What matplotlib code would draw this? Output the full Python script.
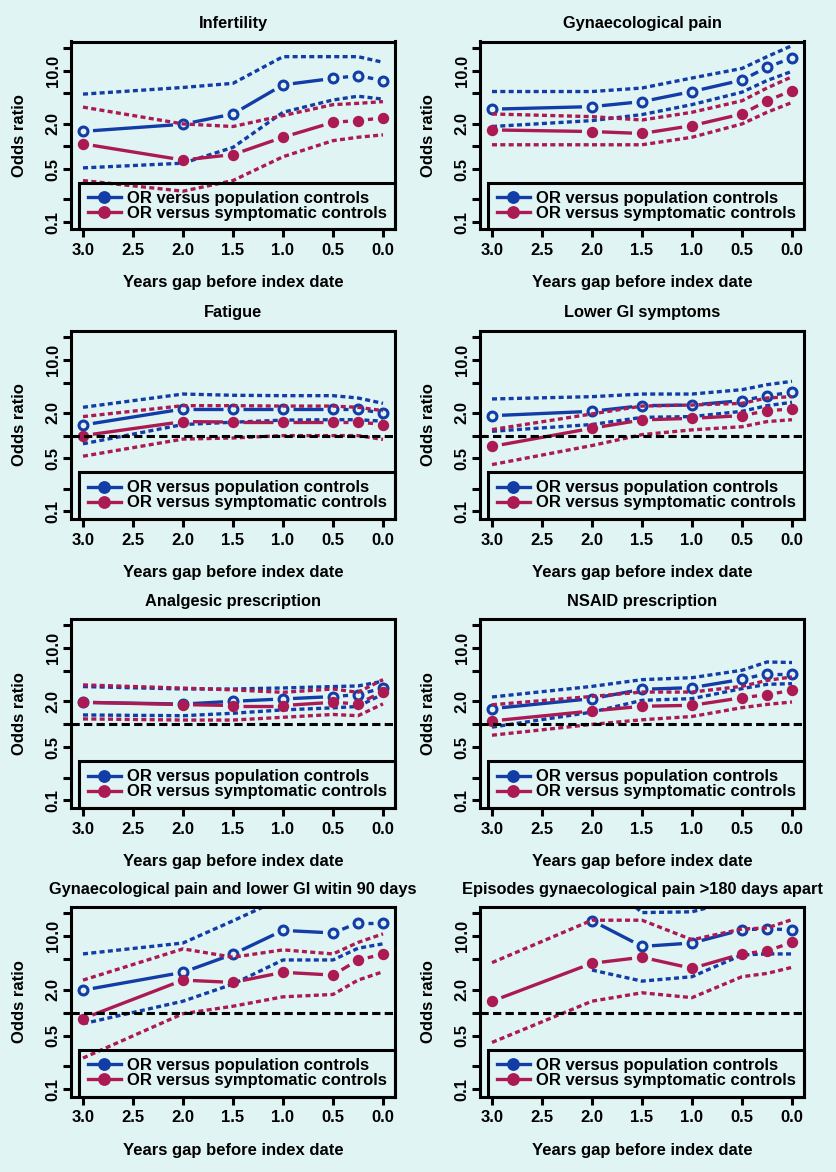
#!/usr/bin/env python
# -*- coding: utf-8 -*-
"""Odds ratios by years gap before index date, eight symptom panels"""

import numpy as np
import matplotlib
matplotlib.use("Agg")
import matplotlib.pyplot as plt
from matplotlib.lines import Line2D

NAN = np.nan

# years before index date (shared by every panel)
years = [3.0, 2.0, 1.5, 1.0, 0.5, 0.25, 0.0]

titles = ["Infertility", "Gynaecological pain",
          "Fatigue", "Lower GI symptoms",
          "Analgesic prescription", "NSAID prescription",
          "Gynaecological pain and lower GI witin 90 days",
          "Episodes gynaecological pain >180 days apart"]

# infertility
infertility_pop = [1.58, 1.96, 2.68, 6.5, 7.9, 8.6, 7.4]
infertility_pop_lo = [0.52, 0.60, 0.97, 2.82, 4.1, 4.6, 4.2]
infertility_pop_hi = [4.9, 6.0, 6.8, 15.3, 15.3, 15.3, 12.9]
infertility_sym = [1.08, 0.66, 0.78, 1.32, 2.08, 2.19, 2.38]
infertility_sym_lo = [0.354, 0.256, 0.354, 0.73, 1.19, 1.32, 1.42]
infertility_sym_hi = [3.3, 1.98, 1.83, 2.55, 3.56, 3.7, 3.9]

# gynaecological pain
gynpain_pop = [3.1, 3.35, 3.9, 5.3, 7.5, 11.1, 14.7]
gynpain_pop_lo = [1.83, 2.19, 2.63, 3.56, 5.2, 7.4, 9.8]
gynpain_pop_hi = [5.3, 5.3, 5.9, 8.0, 10.7, 15.3, 21.4]
gynpain_sym = [1.65, 1.57, 1.48, 1.88, 2.68, 4.0, 5.45]
gynpain_sym_lo = [1.05, 1.05, 1.05, 1.32, 1.98, 2.82, 3.8]
gynpain_sym_hi = [2.68, 2.47, 2.23, 2.82, 4.0, 5.9, 8.3]

# fatigue
fatigue_pop = [1.38, 2.24, 2.24, 2.24, 2.24, 2.24, 1.97]
fatigue_pop_lo = [0.78, 1.40, 1.5, 1.6, 1.62, 1.62, 1.55]
fatigue_pop_hi = [2.36, 3.53, 3.4, 3.36, 3.36, 3.13, 2.66]
fatigue_sym = [1.0, 1.53, 1.51, 1.51, 1.51, 1.51, 1.40]
fatigue_sym_lo = [0.535, 0.90, 0.93, 1.0, 1.0, 1.0, 0.89]
fatigue_sym_hi = [1.78, 2.48, 2.48, 2.45, 2.45, 2.36, 2.13]

# lower GI symptoms
lowergi_pop = [1.83, 2.09, 2.48, 2.53, 2.89, 3.36, 3.72]
lowergi_pop_lo = [1.14, 1.40, 1.74, 1.78, 2.09, 2.48, 2.75]
lowergi_pop_hi = [3.04, 3.26, 3.53, 3.53, 4.03, 4.69, 5.19]
lowergi_sym = [0.72, 1.25, 1.61, 1.69, 1.83, 2.13, 2.24]
lowergi_sym_lo = [0.415, 0.74, 1.03, 1.19, 1.31, 1.53, 1.62]
lowergi_sym_hi = [1.2, 1.93, 2.45, 2.53, 2.66, 3.13, 3.26]

# analgesic prescription
analgesic_pop = [1.95, 1.85, 2.01, 2.16, 2.32, 2.46, 3.01]
analgesic_pop_lo = [1.33, 1.30, 1.40, 1.55, 1.65, 1.72, 2.51]
analgesic_pop_hi = [3.14, 2.92, 2.92, 3.01, 3.14, 3.2, 3.69]
analgesic_sym = [1.95, 1.82, 1.77, 1.77, 1.95, 1.86, 2.70]
analgesic_sym_lo = [1.18, 1.14, 1.14, 1.24, 1.35, 1.30, 1.86]
analgesic_sym_hi = [3.3, 3.0, 2.84, 2.64, 2.92, 2.64, 3.88]

# NSAID prescription
nsaid_pop = [1.61, 2.18, 2.89, 3.04, 3.91, 4.64, 4.64]
nsaid_pop_lo = [0.92, 1.45, 2.07, 2.18, 2.95, 3.36, 3.43]
nsaid_pop_hi = [2.29, 3.16, 3.87, 4.11, 5.14, 6.61, 6.5]
nsaid_sym = [1.11, 1.5, 1.73, 1.78, 2.24, 2.46, 2.8]
nsaid_sym_lo = [0.72, 1.0, 1.15, 1.27, 1.66, 1.83, 1.97]
nsaid_sym_hi = [1.81, 2.33, 2.66, 2.66, 3.16, 3.79, 4.2]

# gynaecological pain and lower GI within 90 days
combo_pop = [1.98, 3.39, 5.85, 12.0, 11.1, 15.0, 15.0]
combo_pop_lo = [0.72, 1.42, 2.38, 4.92, 4.92, 7.0, 8.0]
combo_pop_hi = [5.9, 8.2, 16.0, 32.0, 45.0, 60.0, 60.0]
combo_sym = [0.84, 2.68, 2.5, 3.39, 3.12, 4.92, 5.85]
combo_sym_lo = [0.256, 0.975, 1.22, 1.62, 1.74, 2.68, 3.45]
combo_sym_hi = [2.68, 6.87, 5.34, 6.67, 5.9, 8.34, 10.8]

# episodes of gynaecological pain >180 days apart
episodes_pop = [NAN, 16.1, 7.4, 8.2, 12.2, 12.6, 12.2]
episodes_pop_lo = [NAN, 3.63, 2.6, 2.97, 5.73, 5.9, 5.9]
episodes_pop_hi = [NAN, 76.0, 20.5, 21.0, 31.0, 33.0, 33.0]
episodes_sym = [1.42, 4.45, 5.34, 3.82, 5.9, 6.47, 8.34]
episodes_sym_lo = [0.41, 1.42, 1.83, 1.58, 2.97, 3.28, 3.94]
episodes_sym_hi = [4.54, 16.3, 16.3, 9.04, 12.5, 12.9, 16.6]

# which panels carry the dashed OR = 1 reference line
ref_line = [False, False, True, True, True, True, True, True]

x_ticks = [3.0, 2.5, 2.0, 1.5, 1.0, 0.5, 0.0]
y_ticks = [0.1, 0.2, 0.5, 1.0, 2.0, 5.0, 10.0, 20.0]
y_tick_labels = ["0.1", "", "0.5", "", "2.0", "", "10.0", ""]
legend_labels = ["OR versus population controls", "OR versus symptomatic controls"]

BG = "#e0f5f3"
BLUE = "#123ca6"
CRIMSON = "#ab1a52"
LW = 2.4
FS = 12


def gapped_line(axes, x_vals, y_vals, color, gap_px=10):
    """
    Draws a line that stops short of each point, like R's type='b'
    :param axes: target axes (limits must be set already)
    :param x_vals: x data
    :param y_vals: y data
    :param color: line colour
    :param gap_px: gap around each point in pixels
    """
    pts = axes.transData.transform(np.column_stack([x_vals, y_vals]))
    inv = axes.transData.inverted()
    for p_0, p_1 in zip(pts[:-1], pts[1:]):
        if np.any(np.isnan(p_0)) or np.any(np.isnan(p_1)):
            continue
        delta = p_1 - p_0
        length = np.hypot(delta[0], delta[1])
        if length <= 2 * gap_px:
            continue
        unit = delta / length
        seg = inv.transform(np.array([p_0 + unit * gap_px, p_1 - unit * gap_px]))
        axes.plot(seg[:, 0], seg[:, 1], color=color, lw=LW, solid_capstyle="butt")


def draw_panel(axes, title, series, with_ref):
    """
    Draws one odds-ratio panel
    :param axes: target axes
    :param title: panel title
    :param series: list of (or, lo, hi, colour, open marker) tuples
    :param with_ref: draw dashed line at OR = 1
    """
    axes.set_facecolor(BG)
    axes.set_yscale("log")
    axes.set_xlim(3.12, -0.12)
    axes.set_ylim(10 ** -1.095, 10 ** 1.385)
    axes.minorticks_off()

    for odds, low, high, col, hollow in series:
        gapped_line(axes, years, odds, col)
        for bound in (low, high):
            axes.plot(years, bound, color=col, lw=LW, dashes=(1.5, 1.0),
                      dash_capstyle="butt")
        if hollow:
            axes.plot(years, odds, ls="none", marker="o", ms=6.4, mew=2.2,
                      mec=col, mfc="none")
        else:
            axes.plot(years, odds, ls="none", marker="o", ms=8.2, mew=0,
                      mfc=col)

    if with_ref:
        axes.axhline(1.0, color="black", lw=2.2, dashes=(2.7, 1.4), zorder=3)

    axes.set_xticks(x_ticks)
    axes.set_xticklabels(["%.1f" % t for t in x_ticks])
    axes.set_yticks(y_ticks)
    axes.set_yticklabels(y_tick_labels, rotation=90, va="center")
    axes.tick_params(direction="out", length=6, width=2.2, labelsize=FS, pad=4)
    axes.tick_params(axis="y", pad=1.5)
    for spine in axes.spines.values():
        spine.set_linewidth(2.2)

    axes.set_title(title, fontsize=11.8, fontweight="bold", pad=9.5)
    axes.set_xlabel("Years gap before index date", fontsize=FS, fontweight="bold")
    axes.set_ylabel("Odds ratio", fontsize=FS, fontweight="bold")
    axes.xaxis.set_label_coords(0.5, -0.245)
    axes.yaxis.set_label_coords(-0.135, 0.5)

    handles = [Line2D([], [], color=BLUE, lw=LW, marker="o", ms=8.2),
               Line2D([], [], color=CRIMSON, lw=LW, marker="o", ms=8.2)]
    leg = axes.legend(handles, legend_labels, loc="lower right", fontsize=FS,
                      borderaxespad=0, borderpad=0.5, labelspacing=0.0,
                      handlelength=2.0, handletextpad=0.35, fancybox=False,
                      frameon=True, framealpha=1)
    frame = leg.get_frame()
    frame.set_facecolor("none")
    frame.set_edgecolor("black")
    frame.set_linewidth(2.2)


plt.rcParams["font.family"] = ["Liberation Sans", "DejaVu Sans"]
plt.rcParams["font.weight"] = "bold"

fig = plt.figure(figsize=(8.37, 11.72), dpi=100, facecolor=BG)
W, H = 837.0, 1172.0
col_left = [71, 480]
row_top = [41.5, 330.5, 619, 907]
row_bottom = [229.3, 518.7, 807.7, 1096.5]
panel_width = 324

all_series = [
    (infertility_pop, infertility_pop_lo, infertility_pop_hi,
     infertility_sym, infertility_sym_lo, infertility_sym_hi),
    (gynpain_pop, gynpain_pop_lo, gynpain_pop_hi,
     gynpain_sym, gynpain_sym_lo, gynpain_sym_hi),
    (fatigue_pop, fatigue_pop_lo, fatigue_pop_hi,
     fatigue_sym, fatigue_sym_lo, fatigue_sym_hi),
    (lowergi_pop, lowergi_pop_lo, lowergi_pop_hi,
     lowergi_sym, lowergi_sym_lo, lowergi_sym_hi),
    (analgesic_pop, analgesic_pop_lo, analgesic_pop_hi,
     analgesic_sym, analgesic_sym_lo, analgesic_sym_hi),
    (nsaid_pop, nsaid_pop_lo, nsaid_pop_hi,
     nsaid_sym, nsaid_sym_lo, nsaid_sym_hi),
    (combo_pop, combo_pop_lo, combo_pop_hi,
     combo_sym, combo_sym_lo, combo_sym_hi),
    (episodes_pop, episodes_pop_lo, episodes_pop_hi,
     episodes_sym, episodes_sym_lo, episodes_sym_hi),
]

for idx, data in enumerate(all_series):
    row, col = divmod(idx, 2)
    rect = [col_left[col] / W, 1 - row_bottom[row] / H,
            panel_width / W, (row_bottom[row] - row_top[row]) / H]
    ax = fig.add_axes(rect)
    pop_or, pop_lo, pop_hi, sym_or, sym_lo, sym_hi = data
    draw_panel(ax, titles[idx],
               [(pop_or, pop_lo, pop_hi, BLUE, True),
                (sym_or, sym_lo, sym_hi, CRIMSON, False)],
               ref_line[idx])

fig.savefig("out.png", dpi=100, facecolor=BG)
